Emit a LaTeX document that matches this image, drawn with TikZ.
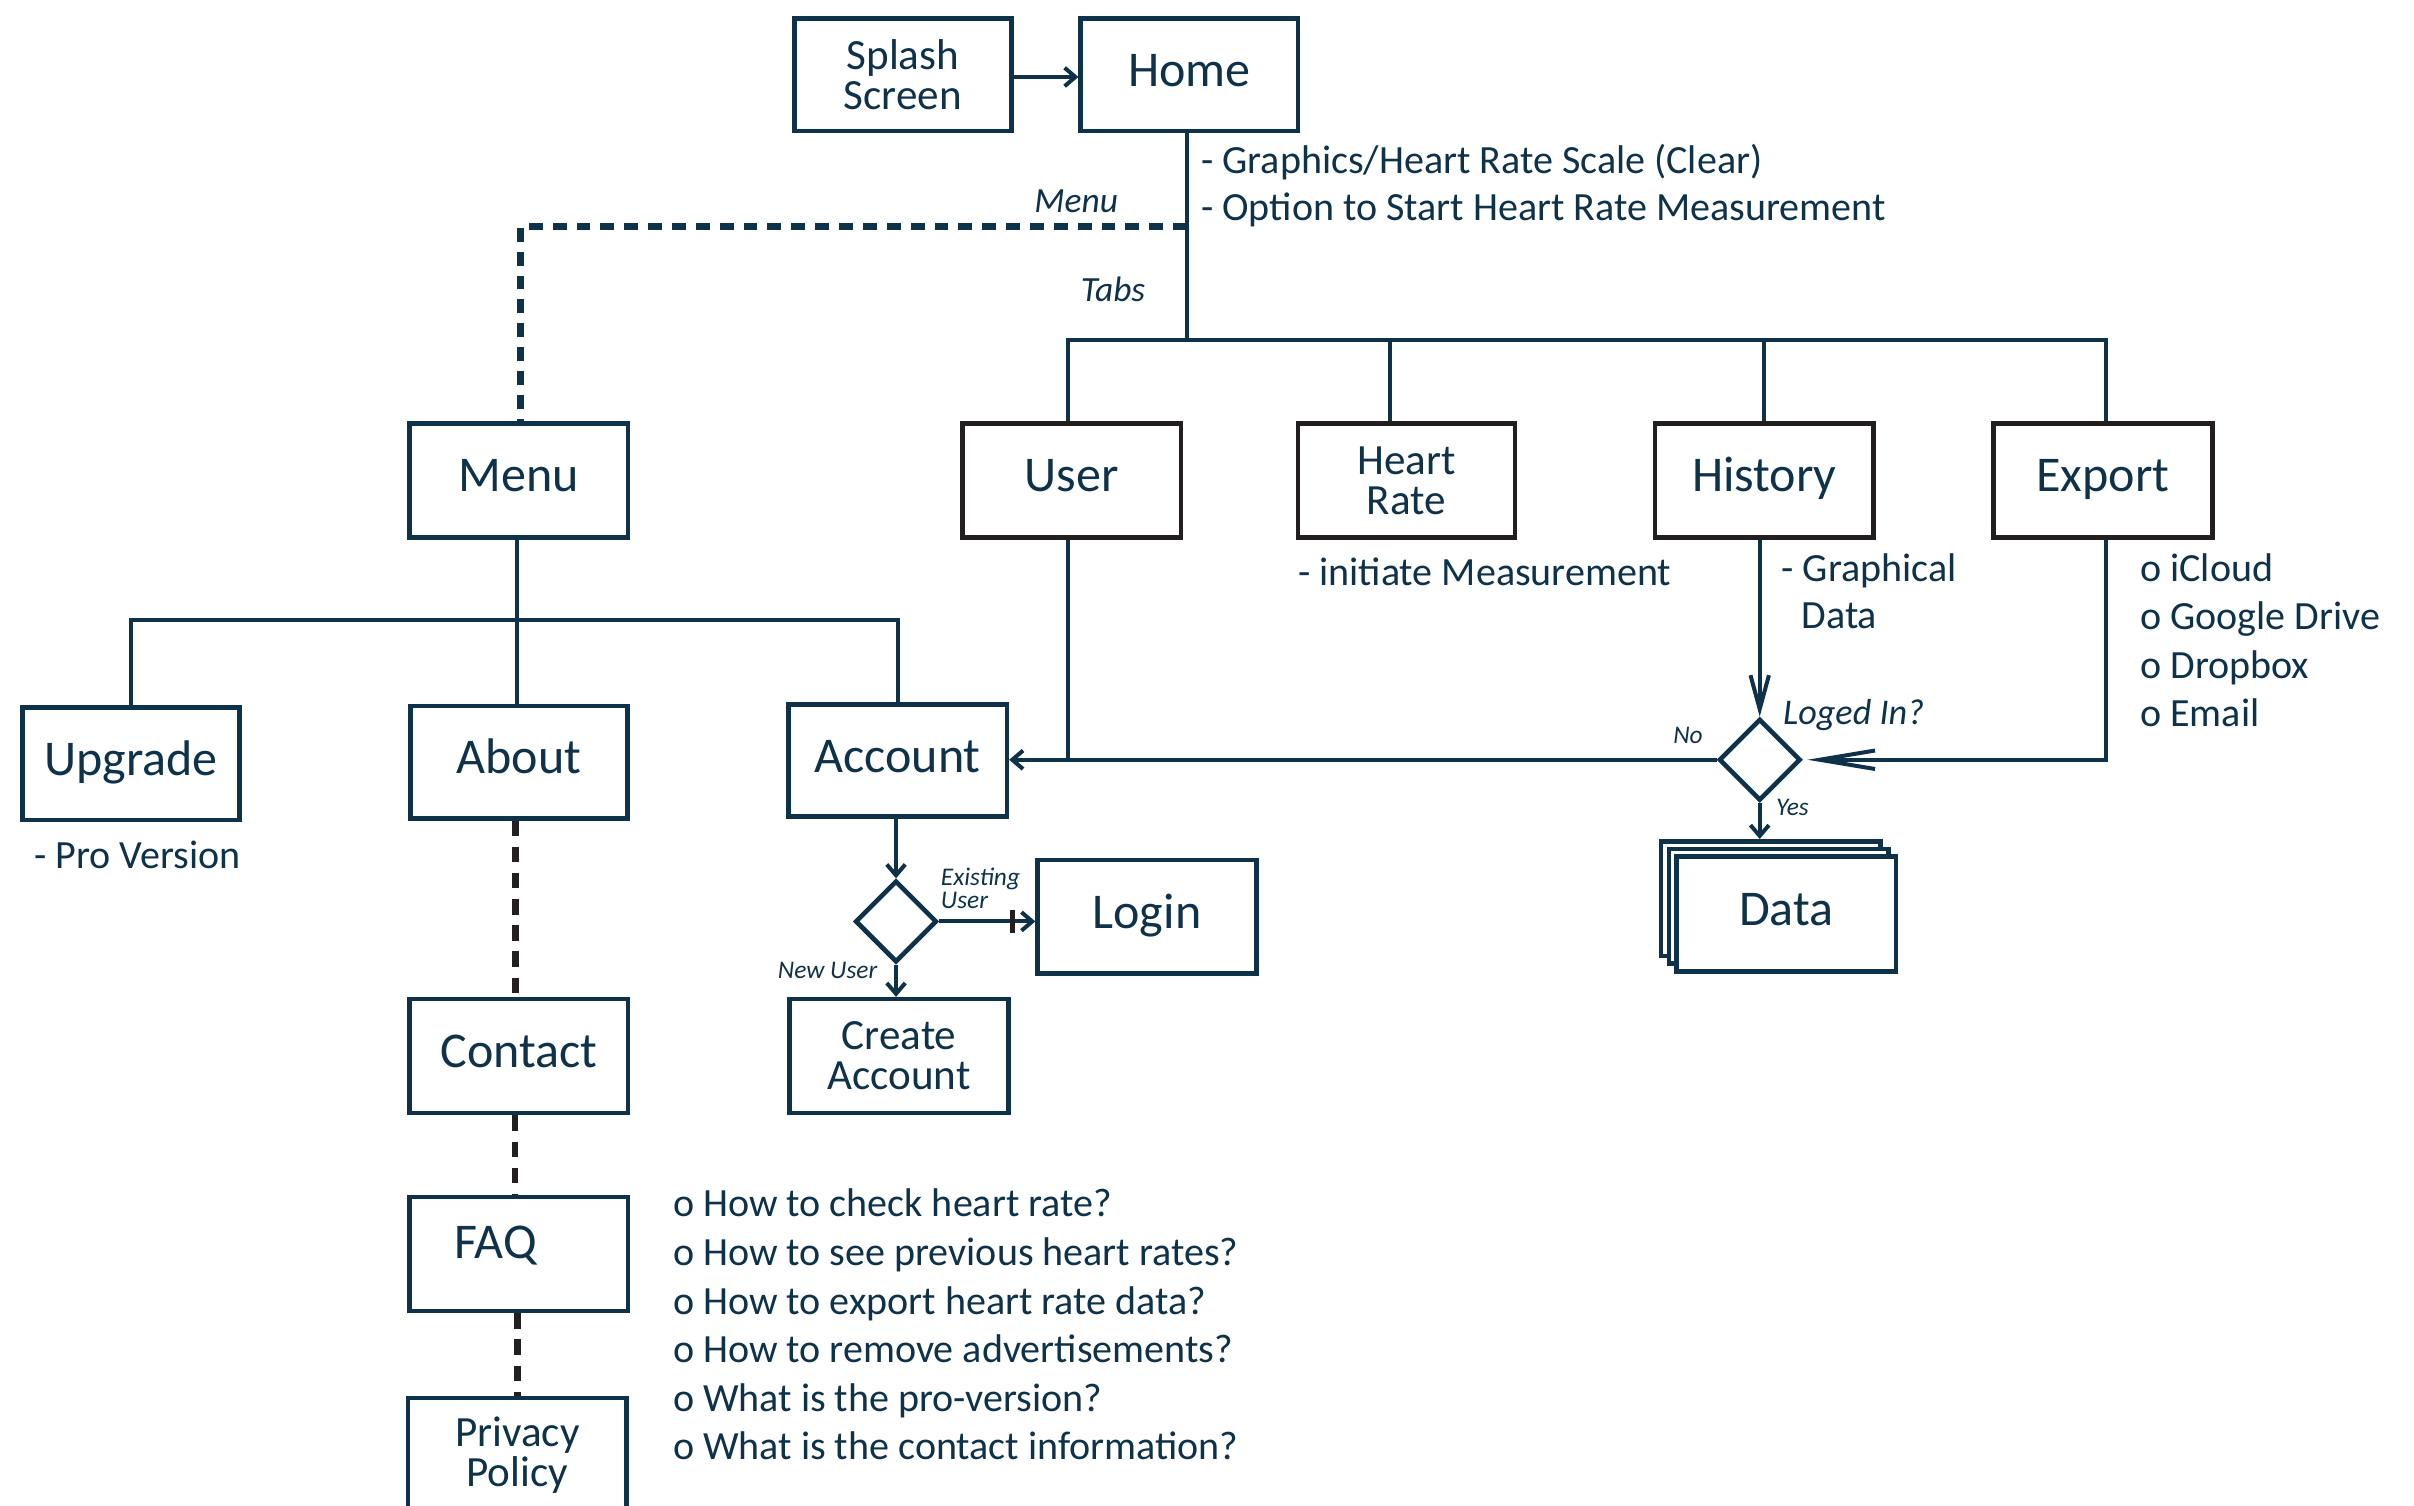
\documentclass[tikz,border=0pt]{standalone}
\usepackage{fontspec}
\setmainfont{Carlito}
\usetikzlibrary{arrows.meta,shapes.geometric}
\definecolor{navy}{HTML}{0E3249}
\definecolor{ink}{HTML}{231F20}
\begin{document}
\begin{tikzpicture}[x=1pt,y=-1pt,
  box/.style={draw=navy,line width=3pt,minimum width=142pt,minimum height=74pt,inner sep=0pt,align=center,text=navy,fill=white},
  tabbox/.style={box,draw=ink},
  big/.style={font=\fontsize{32.5}{33}\selectfont,text height=22pt,text depth=7pt},
  two/.style={font=\fontsize{28}{26}\selectfont},
  dia/.style={shape=diamond,draw=navy,line width=3pt,minimum width=53pt,minimum height=53pt,inner sep=0pt},
  conn/.style={draw=navy,line width=2.6pt},
  dotline/.style={draw=navy,line width=4.5pt,dash pattern=on 9pt off 6.5pt},
  dashline/.style={draw=ink,line width=4.5pt,dash pattern=on 10pt off 7pt},
  desc/.style={inner sep=0pt,anchor=west,text=navy,font=\fontsize{26}{26}\selectfont,text height=18pt,text depth=5pt},
  lab/.style={inner sep=0pt,anchor=base,text=navy,font=\fontsize{23}{23}\selectfont\itshape},
  slab/.style={inner sep=0pt,anchor=base,text=navy,font=\fontsize{16.5}{15}\selectfont\itshape},
  barb/.tip={Straight Barb[length=7pt,width=12pt]},
  lbarb/.tip={Straight Barb[length=22pt,width=12pt]},
  xbarb/.tip={Straight Barb[length=36pt,width=12pt]}
]
\useasboundingbox[fill=white] (0,0) rectangle (1568,978);

% boxes
\node[box,two,minimum width=141pt,minimum height=73pt] (splash) at (586.5,48.5) {Splash\\Screen};
\node[box,big,minimum width=141pt,minimum height=73pt] (home) at (772.5,48.5) {Home};
\node[box,big] (menu) at (337,312) {Menu};
\node[tabbox,big] (user) at (696,312) {User};
\node[tabbox,two,minimum width=141pt] (heart) at (913.5,312) {Heart\\Rate};
\node[tabbox,big] (history) at (1146,312) {History};
\node[tabbox,big] (export) at (1366,312) {Export};
\node[box,big,minimum width=141pt,minimum height=73pt] (upgrade) at (85,496) {Upgrade};
\node[box,big,minimum width=141pt,minimum height=73pt] (about) at (337,495) {About};
\node[box,big,minimum height=73pt] (account) at (583,494) {Account};
\node[box,big] (login) at (745,595.5) {Login};
\node[box,two] (create) at (584,686) {Create\\Account};
\node[box,big] (contact) at (337,686) {Contact};
\node[box] (faq) at (337,814.5) {};
\node[inner sep=0pt,text=navy,font=\fontsize{32.5}{33}\selectfont] (faqt) at (322,809) {FAQ};
\node[box,two] (privacy) at (336,945) {Privacy\\Policy};

% data stack
\node[box,minimum width=142.6pt,minimum height=74.5pt] (data3) at (1150.3,583.7) {};
\node[box,minimum width=142.6pt,minimum height=74.5pt] (data2) at (1155.3,588.7) {};
\node[box,big,minimum width=142.6pt,minimum height=74.5pt] (data) at (1160.3,593.7) {Data};

% diamonds
\node[dia] (loged) at (1143,493.5) {};
\node[dia] (logdia) at (582,598.5) {};

% home connections
\draw[conn,-{barb}] (splash.east |- 0,50) -- (home.west |- 0,50);
\draw[conn] (home.south -| 771,0) -- (771,221) coordinate (hb);
\draw[conn] (user.north -| 694,0) |- (hb) -| (export.north -| 1368,0);
\draw[conn] (heart.north -| 903,0) -- (903,221);
\draw[conn] (history.north) -- (history.north |- hb);
\draw[dotline] (771,147) -| (menu.north -| 338,0);

% menu tree
\draw[conn] (menu.south -| 336,0) -- (336,403) coordinate (mb);
\draw[conn] (upgrade.north) |- (mb) -| (account.north);
\draw[conn] (mb) -- (about.north -| 336,0);

% user / history / export
\draw[conn] (user.south -| 694,0) -- (694,493.5);
\draw[conn,-{barb}] (loged.west) -- (account.east |- loged.west);
\draw[conn,-{lbarb}] (history.south -| loged.north) -- (loged.north);
\draw[conn,-{xbarb},shorten >=3pt] (export.south -| 1368,0) |- (loged.east);
\draw[conn,-{barb}] (loged.south) -- (data3.north -| loged.south);

% account
\draw[conn,-{barb}] (account.south -| logdia.north) -- (logdia.north);
\draw[conn,-{barb}] (logdia.south) -- (create.north -| logdia.south);
\draw[conn,-{barb}] (logdia.east) -- (login.west |- logdia.east);
\draw[ink,line width=3.3pt] (657.8,591) -- (657.8,606);

% dashed menu items
\draw[dashline] (about.south -| 334.6,0) -- (contact.north -| 334.6,0);
\draw[dashline] (contact.south -| 334.5,0) -- (faq.north -| 334.5,0);
\draw[dashline] (faq.south -| 336.3,0) -- (privacy.north -| 336.3,0);

% texts
\node[desc] (d1) at (780,106) {- Graphics/Heart Rate Scale (Clear)};
\node[desc] (d2) at (780,136.8) {- Option to Start Heart Rate Measurement};
\node[lab] (lmenu) at (699,138) {Menu};
\node[lab] (ltabs) at (723,196) {Tabs};
\node[desc] (d3) at (843,374) {- initiate Measurement};
\node[desc] (d4) at (1157,371.3) {- Graphical};
\node[desc] (d5) at (1170,401.6) {Data};
\node[desc] (e1) at (1390,371.3) {o iCloud};
\node[desc] (e2) at (1390,402.7) {o Google Drive};
\node[desc] (e3) at (1390,434.1) {o Dropbox};
\node[desc] (e4) at (1390,465.5) {o Email};
\node[lab,anchor=base west,font=\fontsize{23.5}{23}\selectfont\itshape] (lli) at (1158,470.3) {Loged In?};
\node[slab] (lno) at (1096.4,482.8) {No};
\node[slab] (lyes) at (1164.3,530) {Yes};
\node[desc] (pro) at (22,557.5) {- Pro Version};
\node[slab,anchor=base west] (lex1) at (611,575) {Existing};
\node[slab,anchor=base west] (lex2) at (611,590) {User};
\node[slab,anchor=base east] (lnew) at (570,635.3) {New User};
\node[desc] (f1) at (437,783.8) {o How to check heart rate?};
\node[desc] (f2) at (437,815.4) {o How to see previous heart rates?};
\node[desc] (f3) at (437,847.0) {o How to export heart rate data?};
\node[desc] (f4) at (437,878.6) {o How to remove advertisements?};
\node[desc] (f5) at (437,910.2) {o What is the pro-version?};
\node[desc] (f6) at (437,941.8) {o What is the contact information?};
\end{tikzpicture}
\end{document}
